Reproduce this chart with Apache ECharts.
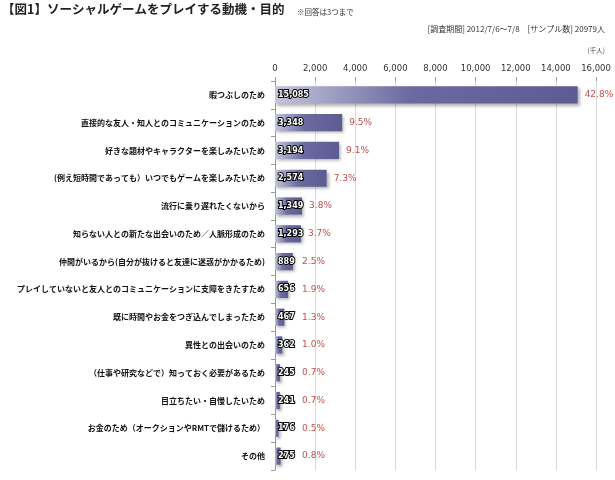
<!DOCTYPE html>
<html><head><meta charset="utf-8">
<script src="https://cdn.jsdelivr.net/npm/echarts@6/dist/echarts.min.js"></script>
<style>html,body{margin:0;padding:0;background:#fff}#c{width:615px;height:480px}</style>
</head><body><div id="c"></div>
<script>
const categories = [
  '暇つぶしのため',
  '直接的な友人・知人とのコミュニケーションのため',
  '好きな題材やキャラクターを楽しみたいため',
  '(例え短時間であっても）いつでもゲームを楽しみたいため',
  '流行に乗り遅れたくないから',
  '知らない人との新たな出会いのため／人脈形成のため',
  '仲間がいるから(自分が抜けると友達に迷惑がかかるため)',
  'プレイしていないと友人とのコミュニケーションに支障をきたすため',
  '既に時間やお金をつぎ込んでしまったため',
  '異性との出会いのため',
  '（仕事や研究などで）知っておく必要があるため',
  '目立ちたい・自慢したいため',
  'お金のため（オークションやRMTで儲けるため）',
  'その他'
];
const values = [15085, 3348, 3194, 2574, 1349, 1293, 889, 656, 467, 362, 245, 241, 176, 275];
const percents = ['42.8%', '9.5%', '9.1%', '7.3%', '3.8%', '3.7%', '2.5%', '1.9%', '1.3%', '1.0%', '0.7%', '0.7%', '0.5%', '0.8%'];
const xTicks = [0, 2000, 4000, 6000, 8000, 10000, 12000, 14000, 16000];

const FONT = '"Noto Sans CJK JP", sans-serif';
const NUMFONT = 'Verdana, "DejaVu Sans", sans-serif';
const chart = echarts.init(document.getElementById('c'), null, {renderer: 'canvas'});
const grad = new echarts.graphic.LinearGradient(0, 0, 1, 0, [
  {offset: 0, color: '#c4c4dc'},
  {offset: 0.45, color: '#6a6aa0'},
  {offset: 1, color: '#5c5c92'}
]);
// percent labels sit just right of the bar, but never closer to the axis than the value label needs
const pctAnchor = values.map(v => Math.max(v, 1000));
chart.setOption({
  animation: false,
  textStyle: {fontFamily: FONT},
  graphic: [
    {type: 'text', left: 2, top: 3, style: {text: '【図1】ソーシャルゲームをプレイする動機・目的', font: 'bold 12.5px ' + FONT, fill: '#222'}},
    {type: 'text', left: 297, top: 8, style: {text: '※回答は3つまで', font: '7.5px ' + FONT, fill: '#333'}},
    {type: 'text', right: 10, top: 25, style: {text: '[調査期間] 2012/7/6～7/8　[サンプル数] 20979人', font: '8px ' + FONT, fill: '#333'}},
    {type: 'text', right: 10, top: 47, style: {text: '(千人)', font: '6.5px ' + FONT, fill: '#444'}}
  ],
  grid: {left: 275, right: 19, top: 81, bottom: 10, containLabel: false, outerBoundsMode: 'none'},
  xAxis: {
    type: 'value', position: 'top', min: 0, max: 16000, interval: 2000,
    axisLabel: {fontSize: 8.5, color: '#333', fontFamily: NUMFONT, margin: 8,
      formatter: v => xTicks.includes(v) ? v.toLocaleString('en-US') : ''},
    axisLine: {show: false},
    axisTick: {show: true, length: 4, lineStyle: {color: '#999'}},
    splitLine: {lineStyle: {color: '#d9d9d9', width: 1}}
  },
  yAxis: {
    type: 'category', inverse: true, data: categories,
    axisLine: {lineStyle: {color: '#999'}},
    axisTick: {show: true, length: 4, lineStyle: {color: '#999'}},
    axisLabel: {fontSize: 8, color: '#111', fontWeight: 'bold', fontFamily: FONT, margin: 10}
  },
  series: [
    {
      type: 'bar', data: values, barCategoryGap: '38%',
      itemStyle: {color: grad, shadowColor: 'rgba(0,0,0,0.3)', shadowBlur: 3, shadowOffsetX: 2, shadowOffsetY: 2},
      label: {show: true, position: 'insideLeft', distance: 3,
        formatter: p => p.value.toLocaleString('en-US'),
        color: '#fff', fontSize: 8, fontWeight: 'bold', fontFamily: NUMFONT,
        textBorderColor: '#000', textBorderWidth: 2},
      z: 2
    },
    {
      type: 'bar', data: pctAnchor, barGap: '-100%', barCategoryGap: '38%',
      itemStyle: {color: 'rgba(0,0,0,0)'},
      label: {show: true, position: 'right', distance: 7,
        formatter: p => percents[p.dataIndex],
        color: '#c0504d', fontSize: 9, fontFamily: NUMFONT},
      z: 3, silent: true
    }
  ]
});
</script></body></html>
